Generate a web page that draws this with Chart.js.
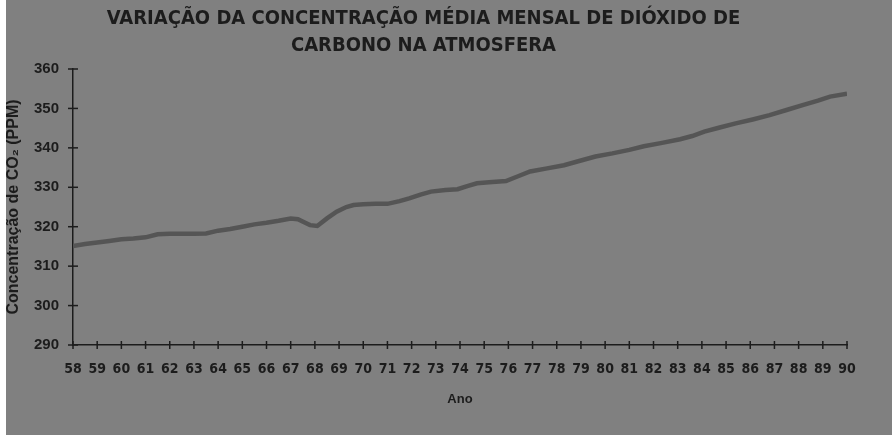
<!DOCTYPE html>
<html><head><meta charset="utf-8">
<script src="https://cdn.jsdelivr.net/npm/chart.js@4/dist/chart.umd.min.js"></script>
<style>
html,body{margin:0;padding:0;background:#fff;}
canvas{display:block;background:linear-gradient(to right,#fff 6px,#808080 6px);}
</style></head><body>
<canvas id="c" width="892" height="435"></canvas>
<script>
// Data (year, two-digit form) and monthly-mean CO2 concentration
const years = [58.0,58.5,59.0,59.5,60.0,60.5,61.0,61.5,62.0,62.5,63.0,63.5,64.0,64.5,65.0,65.5,66.0,66.5,67.0,67.3,67.6,67.8,68.1,68.5,68.9,69.3,69.6,70.0,70.5,71.0,71.5,71.9,72.4,72.8,73.4,73.9,74.3,74.7,75.2,75.9,76.4,76.9,77.6,78.3,79.0,79.6,80.3,81.0,81.6,82.3,83.1,83.6,84.1,84.7,85.4,86.1,86.8,87.5,88.2,88.8,89.3,90.0];
const co2 = [315.1,315.6,316.0,316.4,316.8,317.0,317.3,318.1,318.2,318.2,318.2,318.3,319.0,319.4,320.0,320.6,321.0,321.5,322.1,321.9,321.0,320.4,320.2,322.1,323.8,325.0,325.5,325.7,325.8,325.8,326.5,327.2,328.2,328.9,329.3,329.5,330.3,331.0,331.3,331.6,332.8,334.0,334.8,335.6,336.8,337.8,338.6,339.5,340.4,341.2,342.2,343.0,344.1,345.1,346.2,347.2,348.3,349.6,350.9,352.0,353.0,353.7];
const xTickYears = [58,59,60,61,62,63,64,65,66,67,68,69,70,71,72,73,74,75,76,77,78,79,80,81,82,83,84,85,86,87,88,89,90];
const yTickValues = [290,300,310,320,330,340,350,360];
const titleLines = ['VARIAÇÃO DA CONCENTRAÇÃO MÉDIA MENSAL DE DIÓXIDO DE','CARBONO NA ATMOSFERA'];
const yTitle = 'Concentração de CO₂ (PPM)';
const xTitle = 'Ano';

const ink = '#1c1c1c';
const crossTicks = {
  id: 'crossTicks',
  afterDraw(chart) {
    const ctx = chart.ctx, xs = chart.scales.x, ys = chart.scales.y;
    ctx.save();
    ctx.strokeStyle = ink; ctx.lineWidth = 1.5;
    const ax = ys.right, ay = xs.top;
    ys.ticks.forEach(t => { const p = ys.getPixelForValue(t.value); ctx.beginPath(); ctx.moveTo(ax-5,p); ctx.lineTo(ax+5,p); ctx.stroke(); });
    xs.ticks.forEach(t => { const p = xs.getPixelForValue(t.value); ctx.beginPath(); ctx.moveTo(p,ay-4); ctx.lineTo(p,ay+4); ctx.stroke(); });
    ctx.restore();
  }
};

new Chart(document.getElementById('c'), {
  type: 'line',
  data: { datasets: [{
    data: years.map((y,i)=>({x:y, y:co2[i]})),
    borderColor: '#555555', borderWidth: 4.5, pointRadius: 0, tension: 0, fill: false
  }]},
  options: {
    responsive: false, animation: false, devicePixelRatio: 1,
    layout: { padding: { left: 0, right: 45, top: 0, bottom: 0 } },
    plugins: {
      legend: { display: false }, tooltip: { enabled: false },
      title: { display: true, text: titleLines, color: ink,
        font: { family: '"Liberation Sans Narrow","DejaVu Sans Condensed","Liberation Sans",Arial,sans-serif', size: 20, weight: 'bold', lineHeight: 1.35 },
        padding: { top: 5, bottom: 10 } }
    },
    scales: {
      x: { type: 'linear', min: 58, max: 90,
        afterBuildTicks: s => { s.ticks = xTickYears.map(v=>({value:v})); },
        afterFit: s => { s.height = 90; },
        grid: { display: false },
        border: { display: true, color: ink, width: 1.5 },
        ticks: { autoSkip: false, maxRotation: 0, padding: 8, color: ink,
          font: { family: '"Liberation Sans Narrow","DejaVu Sans Condensed","Liberation Sans",sans-serif', size: 14, weight: 'bold' } },
        title: { display: true, text: xTitle, color: ink, padding: { top: 10, bottom: 28 },
          font: { family: '"Liberation Sans",Arial,sans-serif', size: 13, weight: 'bold' } }
      },
      y: { min: 290, max: 360,
        afterBuildTicks: s => { s.ticks = yTickValues.map(v=>({value:v})); },
        afterFit: s => { s.width = 73; },
        grid: { display: false },
        border: { display: true, color: ink, width: 1.5 },
        ticks: { padding: 6, color: ink,
          font: { family: '"Liberation Sans",Arial,sans-serif', size: 15, weight: 'bold' } },
        title: { display: true, text: yTitle, color: ink, padding: { top: 4, bottom: 0 },
          font: { family: '"Liberation Sans",Arial,sans-serif', size: 16, weight: 'bold' } }
      }
    }
  },
  plugins: [crossTicks]
});
</script>
</body></html>
